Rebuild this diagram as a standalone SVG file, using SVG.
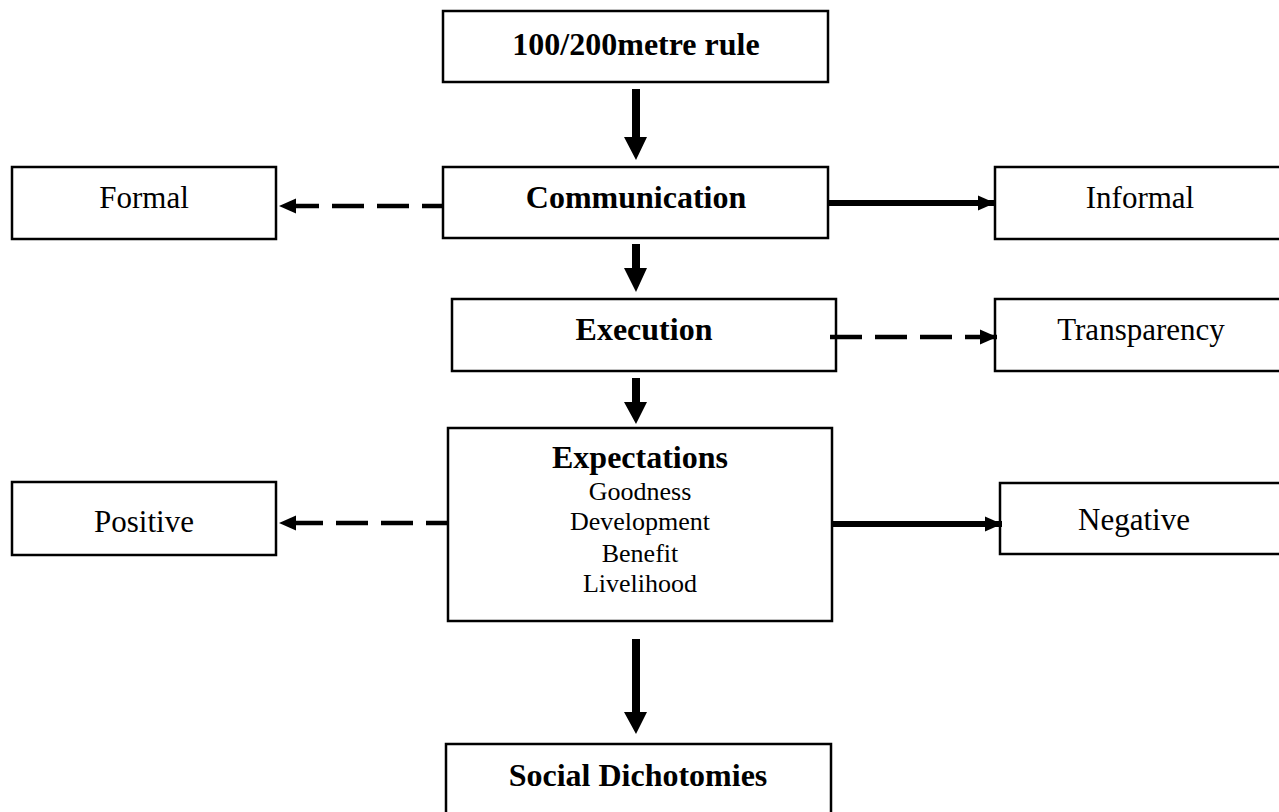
<svg xmlns="http://www.w3.org/2000/svg" width="1279" height="812" viewBox="0 0 1279 812">
<style>
.box{fill:#fff;stroke:#000;stroke-width:2.5}
.t{font-family:"Liberation Serif","Times New Roman",serif;fill:#000;text-anchor:middle}
.b{font-weight:bold;font-size:32px}
.r{font-size:31px}
.s{font-size:26px}
.dash{stroke:#000;stroke-width:4.5;stroke-dasharray:32 13;fill:none}
.solid{stroke:#000;stroke-width:6;fill:none}
.shaft{fill:#000}
</style>
<defs>
<marker id="ah" markerUnits="userSpaceOnUse" markerWidth="18" markerHeight="18" viewBox="0 0 18 18" refX="17" refY="9" orient="auto">
<path d="M0,1.5 L17,9 L0,16.5 Z" fill="#000"/>
</marker>
</defs>
<rect width="1279" height="812" fill="#fff"/>
<g id="n-rule"><rect class="box" x="443" y="11" width="385" height="71"/><text class="t b" x="636" y="55">100/200metre rule</text></g>
<g id="n-comm"><rect class="box" x="443" y="167" width="385" height="71"/><text class="t b" x="636" y="208">Communication</text></g>
<g id="n-formal"><rect class="box" x="12" y="167" width="264" height="72"/><text class="t r" x="144" y="208">Formal</text></g>
<g id="n-informal"><rect class="box" x="995" y="167" width="300" height="72"/><text class="t r" x="1140" y="208">Informal</text></g>
<g id="n-exec"><rect class="box" x="452" y="299" width="384" height="72"/><text class="t b" x="644" y="340">Execution</text></g>
<g id="n-transp"><rect class="box" x="995" y="299" width="300" height="72"/><text class="t r" x="1141" y="340">Transparency</text></g>
<g id="n-expect"><rect class="box" x="448" y="428" width="384" height="193"/>
<text class="t b" x="640" y="468">Expectations</text>
<text class="t s" x="640" y="500">Goodness</text>
<text class="t s" x="640" y="530">Development</text>
<text class="t s" x="640" y="562">Benefit</text>
<text class="t s" x="640" y="592">Livelihood</text></g>
<g id="n-pos"><rect class="box" x="12" y="482" width="264" height="73"/><text class="t r" x="144" y="532">Positive</text></g>
<g id="n-neg"><rect class="box" x="1000" y="483" width="300" height="71"/><text class="t r" x="1134" y="530">Negative</text></g>
<g id="n-social"><rect class="box" x="446" y="744" width="385" height="90"/><text class="t b" x="638" y="786">Social Dichotomies</text></g>
<g id="connectors">
<path class="shaft" d="M632,89 H640 V137 H647 L636,160 L624,137 H632 Z"/>
<path class="shaft" d="M632,244 H640 V268 H647 L636,292 L624,268 H632 Z"/>
<path class="shaft" d="M632,378 H640 V402 H647 L636,424 L624,402 H632 Z"/>
<path class="shaft" d="M632,639 H640 V712 H647 L636,734 L624,712 H632 Z"/>
<line class="dash" x1="443" y1="206" x2="279" y2="206" stroke-dashoffset="11" marker-end="url(#ah)"/>
<line class="solid" x1="828" y1="203" x2="995" y2="203" marker-end="url(#ah)"/>
<line class="dash" x1="830" y1="337" x2="997" y2="337" marker-end="url(#ah)"/>
<line class="dash" x1="447" y1="523" x2="279" y2="523" stroke-dashoffset="11" marker-end="url(#ah)"/>
<line class="solid" x1="833" y1="524" x2="1002" y2="524" marker-end="url(#ah)"/>
</g>
</svg>
